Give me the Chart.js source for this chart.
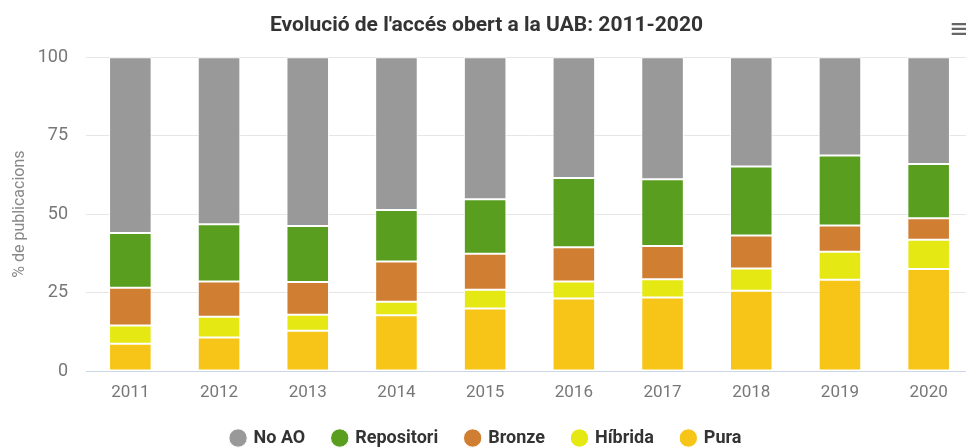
<!DOCTYPE html>
<html>
<head>
<meta charset="utf-8">
<script src="https://cdn.jsdelivr.net/npm/chart.js@4.4.1/dist/chart.umd.min.js"></script>
<style>
  html, body { margin: 0; padding: 0; background: #fff; overflow: hidden; }
  #wrap { position: relative; width: 966px; height: 448px; overflow: hidden; }
  #menu { position: absolute; left: 949px; top: 13px; font: 26px "DejaVu Sans"; color: #666; }
</style>
</head>
<body>
<div id="wrap">
  <canvas id="chart" width="983" height="457"></canvas>
  <span id="menu">≡</span>
</div>
<script>
const years = ['2011', '2012', '2013', '2014', '2015', '2016', '2017', '2018', '2019', '2020']

// % de publicacions per tipus d'accés
const pura       = [8.7, 10.7, 12.8, 17.8, 19.9, 23.1, 23.4, 25.6, 29.1, 32.5]
const hibrida    = [5.8, 6.6, 5.1, 4.3, 6.0, 5.4, 5.8, 7.1, 8.9, 9.3]
const bronze     = [12.0, 11.2, 10.5, 12.8, 11.5, 10.9, 10.6, 10.5, 8.4, 6.9]
const repositori = [17.5, 18.3, 17.8, 16.4, 17.3, 22.1, 21.3, 22.0, 22.3, 17.3]
const noAO       = [56.0, 53.2, 53.8, 48.7, 45.3, 38.5, 38.9, 34.8, 31.3, 34.0]

const yTicks = [0, 25, 50, 75, 100]

const mkSet = (label, data, color) => ({
  label: label,
  data: data,
  backgroundColor: color,
  borderColor: '#ffffff',
  borderWidth: 1,
  borderSkipped: false,
})

const config = {
  type: 'bar',
  data: {
    labels: years,
    // first dataset sits at the bottom of the stack
    datasets: [
      mkSet('Pura', pura, '#f6c518'),
      mkSet('Híbrida', hibrida, '#e5e812'),
      mkSet('Bronze', bronze, '#d07f32'),
      mkSet('Repositori', repositori, '#599e1f'),
      mkSet('No AO', noAO, '#999999'),
    ],
  },
  options: {
    responsive: false,
    animation: false,
    layout: { padding: { left: 0, right: 10, top: 0, bottom: 0 } },
    datasets: { bar: { categoryPercentage: 1, barPercentage: 0.48 } },
    plugins: {
      title: {
        display: true,
        text: "Evolució de l'accés obert a la UAB: 2011-2020",
        color: '#333333',
        font: { family: 'Roboto', size: 21, weight: 'bold' },
        padding: { top: 13, bottom: 19 },
      },
      legend: {
        position: 'bottom',
        reverse: true,
        labels: {
          usePointStyle: true,
          pointStyle: 'circle',
          boxWidth: 13,
          boxHeight: 13,
          padding: 28,
          color: '#333333',
          font: { family: 'Roboto', size: 18, weight: 'bold' },
        },
      },
      tooltip: { enabled: false },
    },
    scales: {
      x: {
        stacked: true,
        afterFit: (scale) => { scale.height = 30 },
        grid: { display: false, drawTicks: false },
        border: { color: '#ccd6eb', width: 1 },
        ticks: {
          color: '#777777',
          padding: 12,
          font: { family: 'Roboto', size: 17 },
        },
      },
      y: {
        stacked: true,
        min: 0,
        max: 100,
        afterBuildTicks: (scale) => { scale.ticks = yTicks.map(v => ({ value: v })) },
        afterFit: (scale) => { scale.width = 86 },
        grid: { color: '#e6e6e6', drawTicks: false },
        border: { display: false },
        ticks: {
          color: '#777777',
          padding: 18,
          font: { family: 'Roboto', size: 18 },
        },
        title: {
          display: true,
          text: '% de publicacions',
          color: '#888888',
          padding: { top: 10, bottom: 0 },
          font: { family: 'Roboto', size: 16 },
        },
      },
    },
  },
}

const ctx = document.getElementById('chart')
window.myBar = new Chart(ctx, config)
</script>
</body>
</html>
